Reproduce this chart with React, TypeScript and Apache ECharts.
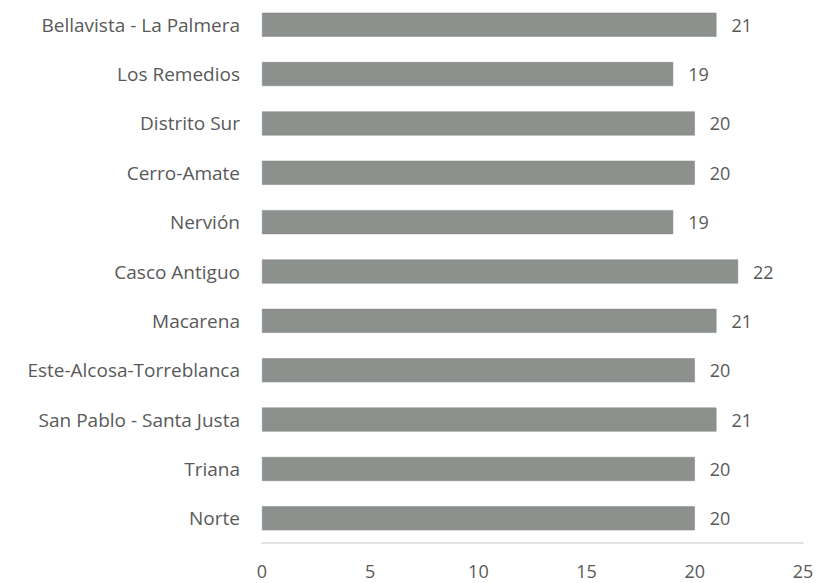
import React, { useEffect, useRef } from "react";
import * as echarts from "echarts";

const categories = [
  "Bellavista - La Palmera",
  "Los Remedios",
  "Distrito Sur",
  "Cerro-Amate",
  "Nervión",
  "Casco Antiguo",
  "Macarena",
  "Este-Alcosa-Torreblanca",
  "San Pablo - Santa Justa",
  "Triana",
  "Norte",
];
const values = [21, 19, 20, 20, 19, 22, 21, 20, 21, 20, 20];

export default function App() {
  const ref = useRef<HTMLDivElement>(null);
  useEffect(() => {
    if (!ref.current) return;
    const chart = echarts.init(ref.current, null, { renderer: "svg" });
    const font = "'Open Sans', sans-serif";
    chart.setOption({
      animation: false,
      grid: { left: 262, right: 15, top: -3, bottom: 40, containLabel: false },
      xAxis: {
        type: "value",
        min: 0,
        max: 25,
        interval: 5,
        axisLine: { show: true, onZero: false, lineStyle: { color: "#d9d9d9", width: 1.5 } },
        axisTick: { show: false },
        splitLine: { show: false },
        axisLabel: { color: "#595959", fontSize: 18, fontFamily: font, margin: 19 },
      },
      yAxis: {
        type: "category",
        data: categories.slice().reverse(),
        axisLine: { show: false },
        axisTick: { show: false },
        axisLabel: { color: "#595959", fontSize: 19, fontFamily: font, margin: 22 },
      },
      series: [
        {
          type: "bar",
          data: values.slice().reverse(),
          barWidth: 24,
          itemStyle: { color: "#8d918d", borderColor: "#7f837f", borderWidth: 0.5 },
          label: {
            show: true,
            position: "right",
            distance: 15,
            color: "#595959",
            fontSize: 18,
            fontFamily: font,
          },
        },
      ],
    });
    return () => chart.dispose();
  }, []);
  return <div ref={ref} style={{ width: 818, height: 583, position: "absolute", left: 0, top: 0 }} />;
}
